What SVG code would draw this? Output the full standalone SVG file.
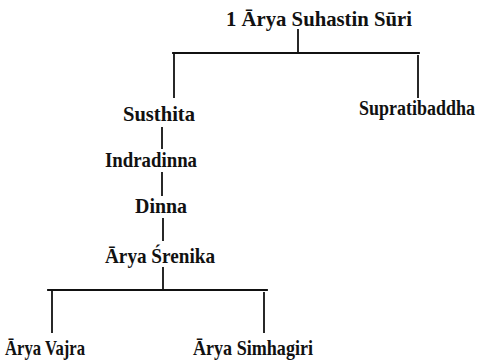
<svg xmlns="http://www.w3.org/2000/svg" width="483" height="361" viewBox="0 0 483 361">
<style>
text{font-family:"Liberation Serif","DejaVu Serif",serif;font-weight:bold;font-size:21px;fill:#111;}
.c line{stroke:#111;stroke-width:1.8;stroke-linecap:square;}
</style>
<rect width="483" height="361" fill="#fff"/>
<g class="c" id="connectors">
<line x1="298" y1="30" x2="298" y2="53"/>
<line x1="173" y1="53" x2="419" y2="53"/>
<line x1="174" y1="53" x2="174" y2="97"/>
<line x1="418" y1="56" x2="418" y2="97"/>
<line x1="162" y1="128" x2="162" y2="148"/>
<line x1="162" y1="173" x2="162" y2="195"/>
<line x1="163" y1="219" x2="163" y2="240"/>
<line x1="163" y1="268" x2="163" y2="290"/>
<line x1="48" y1="290" x2="267" y2="290"/>
<line x1="52" y1="292" x2="52" y2="332"/>
<line x1="264" y1="293" x2="264" y2="332"/>
</g>
<g id="n1"><text x="226" y="26" textLength="186" lengthAdjust="spacingAndGlyphs">1 Ārya Suhastin Sūri</text></g>
<g id="n2"><text x="123" y="121" textLength="72" lengthAdjust="spacingAndGlyphs">Susthita</text></g>
<g id="n3"><text transform="translate(359,115) scale(1,1.15)" x="0" y="0" style="font-size:18px">Supratibaddha</text></g>
<g id="n4"><text x="105" y="167" textLength="92" lengthAdjust="spacingAndGlyphs">Indradinna</text></g>
<g id="n5"><text x="135" y="213" textLength="52" lengthAdjust="spacingAndGlyphs">Dinna</text></g>
<g id="n6"><text x="105" y="263" textLength="110" lengthAdjust="spacingAndGlyphs">Ārya Śrenika</text></g>
<g id="n7"><text x="5" y="355" textLength="80" lengthAdjust="spacingAndGlyphs">Ārya Vajra</text></g>
<g id="n8"><text x="193" y="355" textLength="120" lengthAdjust="spacingAndGlyphs">Ārya Simhagiri</text></g>
</svg>
